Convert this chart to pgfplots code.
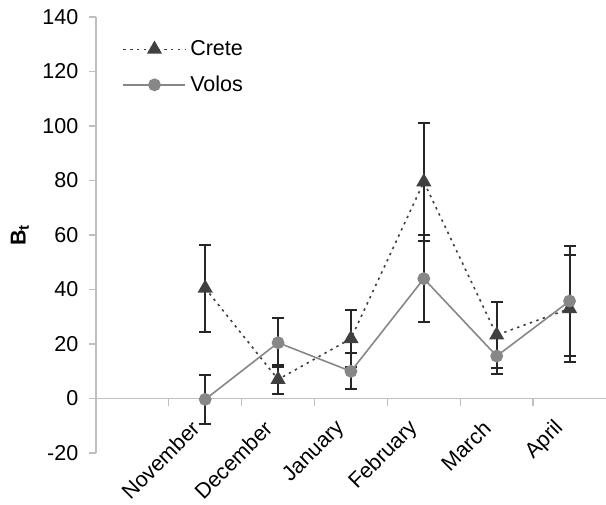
\documentclass[border=0pt]{standalone}
\usepackage{fontspec}
\setmainfont{Liberation Sans}
\usepackage{pgfplots}
\pgfplotsset{compat=1.18}
\usepackage{pgfplotstable}

\definecolor{creteC}{HTML}{404040}
\definecolor{volosC}{HTML}{878787}
\definecolor{axisC}{HTML}{BFBFBF}
\definecolor{barC}{HTML}{262626}

% month index, mean, error
\pgfplotstableread{
x   y     e
1.5 40.5  16
2.5 7     5.5
3.5 22    10.5
4.5 79.5  21.5
5.5 23.3  12.2
6.5 33    19.5
}\crete
\pgfplotstableread{
x   y     e
1.5 -0.3  9
2.5 20.5  9
3.5 10    6.6
4.5 44    16
5.5 15.6  6.6
6.5 35.8  20
}\volos

\begin{document}
\fontsize{10.8}{13}\selectfont
\begin{tikzpicture}
\begin{axis}[
    scale only axis, width=255bp, height=218bp,
    xmin=0, xmax=7, ymin=-20, ymax=140,
    axis y line*=left, axis x line*=middle,
    axis line style={axisC, line width=0.7bp},
    tick style={axisC, line width=0.7bp},
    tick align=outside, major tick length=3.5bp,
    ytick={-20,0,...,140},
    xtick={1,...,6},
    xticklabels={November,December,January,February,March,April},
    tick label style={font=\fontsize{10.8}{13}\selectfont},
    xticklabel style={xshift=16bp, yshift=-7bp, rotate=45, anchor=east},
    yticklabel style={xshift=-1.5bp},
    /pgf/number format/assume math mode=true,
    every axis y label/.style={at={(rel axis cs:0,0.5)}, xshift=-38bp, rotate=90, anchor=center},
    ylabel={\fontsize{10.8}{13}\selectfont\textbf{B\textsubscript{t}}},
    legend style={at={(rel axis cs:0.04,0.966)}, anchor=north west, draw=none, fill=none,
        row sep=4.5bp, font=\fontsize{10.8}{13}\selectfont},
    legend cell align=left,
    legend image code/.code={
        \draw[mark repeat=2,mark phase=2] plot coordinates {(0bp,0bp) (15.5bp,0bp) (31bp,0bp)};
    },
]
\addplot[creteC, line width=0.8bp, dash pattern=on 1.2bp off 2.2bp,
    mark=triangle*, mark size=3.6bp, mark options={solid, fill=creteC, draw=creteC},
    error bars/.cd, y dir=both, y explicit,
    error bar style={barC, line width=1bp, solid},
    error mark options={barC, line width=1bp, mark size=3bp, solid, rotate=90}]
    table[x=x, y=y, y error=e] {\crete};
\addlegendentry{Crete}
\addplot[volosC, line width=0.8bp,
    mark=*, mark size=2.8bp, mark options={fill=volosC, draw=volosC},
    error bars/.cd, y dir=both, y explicit,
    error bar style={barC, line width=1bp, solid},
    error mark options={barC, line width=1bp, mark size=3bp, solid, rotate=90}]
    table[x=x, y=y, y error=e] {\volos};
\addlegendentry{Volos}
\coordinate (bl) at (rel axis cs:-0.188,-0.117);
\coordinate (tr) at (rel axis cs:1,1.039);
\end{axis}
\pgfresetboundingbox
\path (bl) rectangle (tr);
\end{tikzpicture}
\end{document}
